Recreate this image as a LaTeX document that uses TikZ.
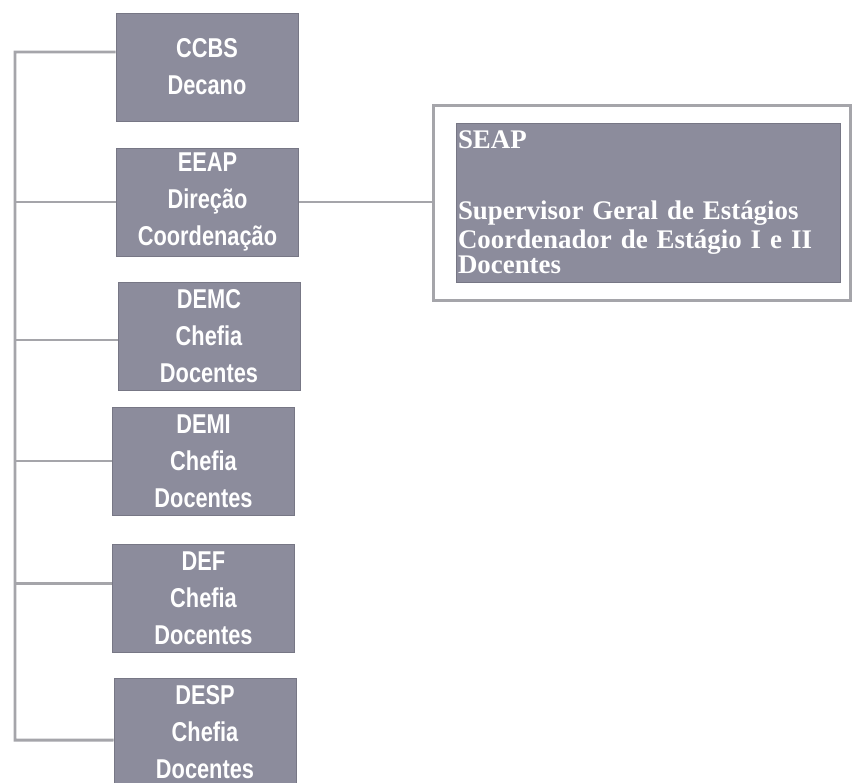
\documentclass[tikz,border=0pt]{standalone}
\usepackage{fontspec}
\setmainfont{Liberation Serif}
\newfontfamily\boxfont[FakeStretch=0.8]{Liberation Sans}
\definecolor{boxgray}{RGB}{140,140,156}
\definecolor{linegray}{RGB}{165,165,170}

\begin{document}
\begin{tikzpicture}[x=0.02cm,y=-0.02cm,
    depto/.style={rectangle,fill=boxgray,draw=boxgray!85!black,line width=0.4pt,
      minimum width=3.64cm,minimum height=2.16cm,inner sep=0pt,align=center,
      text=white,font=\boxfont\bfseries\fontsize{15.5}{21}\selectfont},
    link/.style={draw=linegray,line width=1.7pt}]
  \useasboundingbox (0,0) rectangle (854,783);

  \path (207,67) node[depto] (ccbs) {CCBS\\Decano};
  \path (207.5,202) node[depto] (eeap) {EEAP\\Direção\\Coordenação};
  \path (209,336.5) node[depto] (demc) {DEMC\\Chefia\\Docentes};
  \path (203.5,461) node[depto] (demi) {DEMI\\Chefia\\Docentes};
  \path (203.5,598.5) node[depto] (def) {DEF\\Chefia\\Docentes};
  \path (205,732) node[depto] (desp) {DESP\\Chefia\\Docentes};

  \path (642,203) node[rectangle,draw=linegray,line width=1.7pt,
    minimum width=8.36cm,minimum height=3.92cm] (seapframe) {};
  \path (648,202.5) node[rectangle,fill=boxgray,draw=boxgray!85!black,line width=0.4pt,
    minimum width=7.68cm,minimum height=3.18cm,inner xsep=1pt,text width=7.6cm,
    align=left,text=white,font=\bfseries\fontsize{15.3}{16.4}\selectfont] (seap)
    {SEAP\\[23.9pt]Supervisor Geral de Estágios\\Coordenador de Estágio I e II\\[-1.7pt]Docentes};

  % tronco vertical
  \coordinate (top) at (15,52);
  \coordinate (bottom) at (15,740);
  \draw[link] ([yshift=0.3cm]ccbs.west) -- (top) -- (bottom) -- ([yshift=-0.16cm]desp.west);
  \foreach \n/\s in {eeap/0,demc/-0.07,demi/0,def/0.31}
    {\coordinate (p) at ([yshift=\s cm]\n.west);
     \draw[link] (p) -- (p -| top);}

  \draw[link] (eeap.east) -- (eeap.east -| seapframe.west);
\end{tikzpicture}
\end{document}
